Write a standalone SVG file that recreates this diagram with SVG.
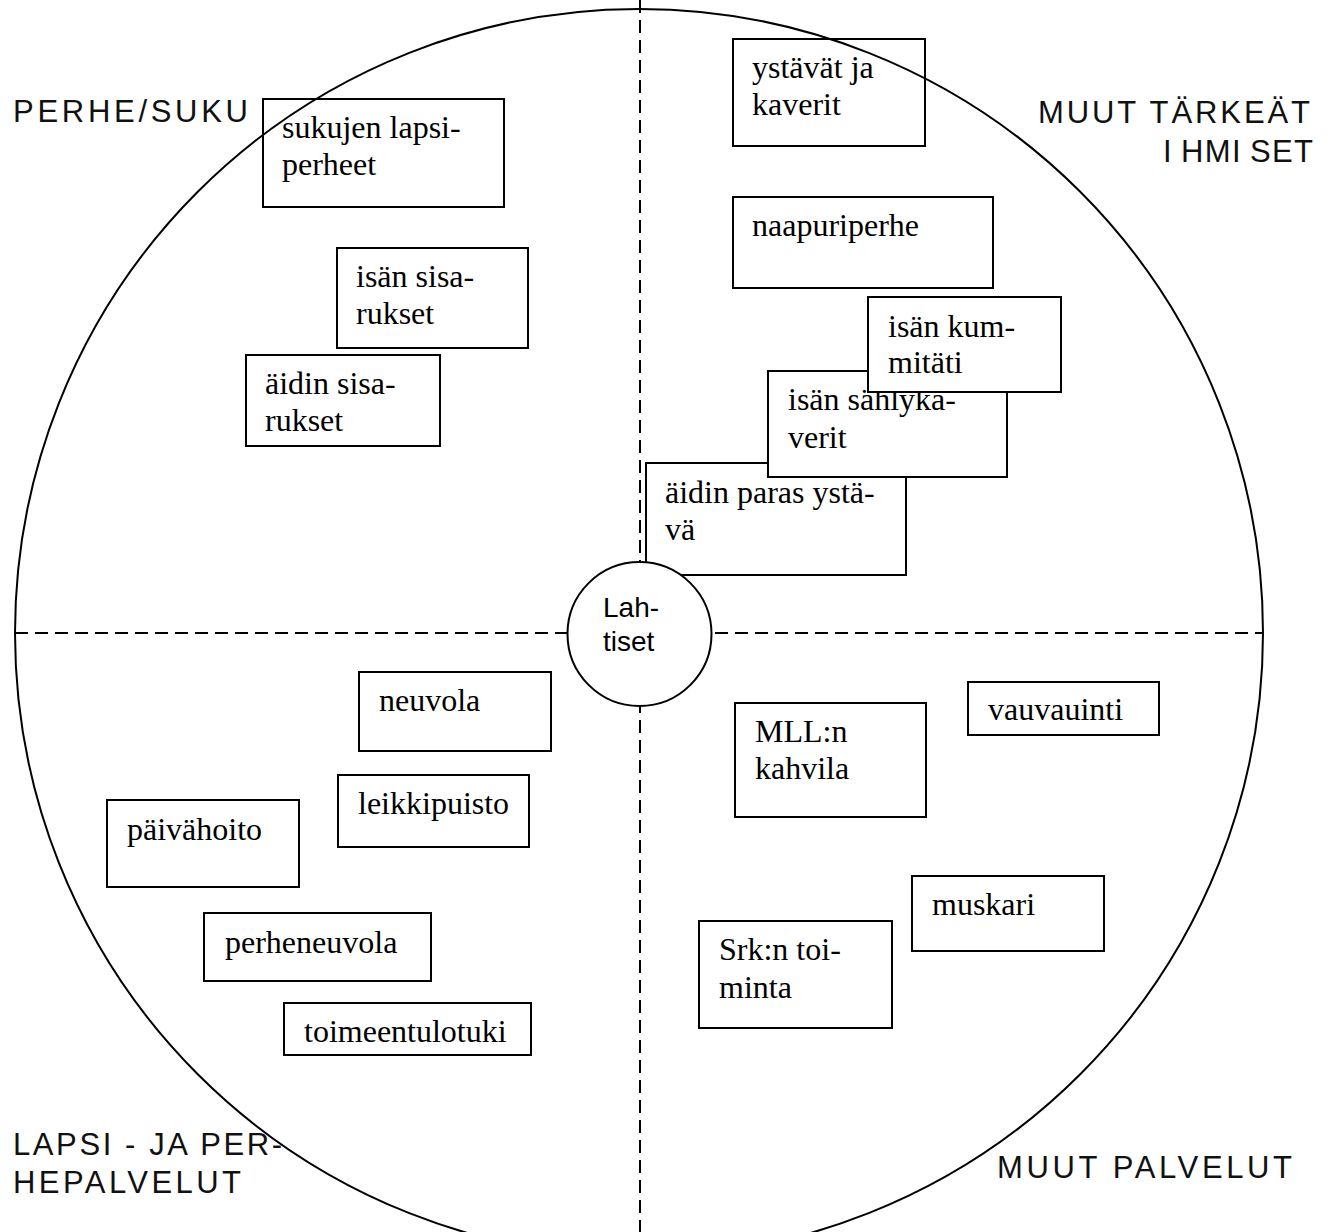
<svg xmlns="http://www.w3.org/2000/svg" width="1337" height="1232" viewBox="0 0 1337 1232">
<style>
.box rect{fill:#fff;stroke:#000;stroke-width:2}
.box text{font-family:"Liberation Sans",sans-serif;font-family:"Liberation Serif","Times New Roman",serif;font-size:32px;fill:#000}
.lbl{font-family:"Liberation Sans",Arial,sans-serif;font-size:31px;fill:#111}
.div{stroke:#000;stroke-width:2;stroke-dasharray:13 7;fill:none}
.lah{font-family:"Liberation Sans",Arial,sans-serif;font-size:28px;fill:#000}
</style>
<rect width="1337" height="1232" fill="#fff"/>
<g id="labels">
<text class="lbl" x="13" y="122" textLength="235" lengthAdjust="spacing">PERHE/SUKU</text>
<text class="lbl" x="1038" y="123" textLength="272" lengthAdjust="spacing">MUUT TÄRKEÄT</text>
<text class="lbl" x="1163" y="162" textLength="150" lengthAdjust="spacing" dx="0 8 0 0 8 0 0">IHMISET</text>
<text class="lbl" x="13" y="1155" textLength="269" lengthAdjust="spacing">LAPSI - JA PER-</text>
<text class="lbl" x="13" y="1193" textLength="228" lengthAdjust="spacing">HEPALVELUT</text>
<text class="lbl" x="997" y="1178" textLength="295" lengthAdjust="spacing">MUUT PALVELUT</text>
</g>
<g id="node-sukujen" class="box"><rect x="263" y="99" width="241" height="108"/><text x="282" y="138">sukujen lapsi-</text><text x="282" y="175">perheet</text></g>
<g id="node-isan-sisarukset" class="box"><rect x="337" y="248" width="191" height="100"/><text x="356" y="287">isän sisa-</text><text x="356" y="324">rukset</text></g>
<g id="node-aidin-sisarukset" class="box"><rect x="246" y="355" width="194" height="91"/><text x="265" y="394">äidin sisa-</text><text x="265" y="431">rukset</text></g>
<g id="node-ystavat" class="box"><rect x="733" y="39" width="192" height="107"/><text x="752" y="78">ystävät ja</text><text x="752" y="115">kaverit</text></g>
<g id="node-naapuriperhe" class="box"><rect x="733" y="197" width="260" height="91"/><text x="752" y="236">naapuriperhe</text></g>
<g id="node-aidin-paras" class="box"><rect x="646" y="463" width="260" height="112"/><text x="665" y="503">äidin paras ystä-</text><text x="665" y="540">vä</text></g>
<g id="node-sahlykaverit" class="box"><rect x="768" y="371" width="239" height="106"/><text x="788" y="410">isän sählyka-</text><text x="788" y="448">verit</text></g>
<g id="node-kummitati" class="box"><rect x="868" y="297" width="193" height="95"/><text x="888" y="337">isän kum-</text><text x="888" y="373">mitäti</text></g>
<g id="node-neuvola" class="box"><rect x="359" y="672" width="192" height="79"/><text x="379" y="711">neuvola</text></g>
<g id="node-leikkipuisto" class="box"><rect x="338" y="775" width="191" height="72"/><text x="358" y="814">leikkipuisto</text></g>
<g id="node-paivahoito" class="box"><rect x="107" y="800" width="192" height="87"/><text x="127" y="840">päivähoito</text></g>
<g id="node-perheneuvola" class="box"><rect x="204" y="913" width="227" height="68"/><text x="225" y="953">perheneuvola</text></g>
<g id="node-toimeentulotuki" class="box"><rect x="284" y="1003" width="247" height="52"/><text x="304" y="1042">toimeentulotuki</text></g>
<g id="node-mll" class="box"><rect x="735" y="703" width="191" height="114"/><text x="755" y="742">MLL:n</text><text x="755" y="779">kahvila</text></g>
<g id="node-vauvauinti" class="box"><rect x="968" y="682" width="191" height="53"/><text x="988" y="720">vauvauinti</text></g>
<g id="node-muskari" class="box"><rect x="912" y="876" width="192" height="75"/><text x="932" y="915">muskari</text></g>
<g id="node-srk" class="box"><rect x="699" y="921" width="193" height="107"/><text x="719" y="960">Srk:n toi-</text><text x="719" y="998">minta</text></g>
<g id="connectors">
<circle cx="639" cy="633" r="624" fill="none" stroke="#000" stroke-width="2"/>
<line class="div" x1="15" y1="633" x2="1263" y2="633"/>
<line class="div" x1="640" y1="0" x2="640" y2="1232"/>
</g>
<g id="node-lahtiset">
<circle cx="639.5" cy="634" r="72" fill="#fff" stroke="#000" stroke-width="2"/>
<text class="lah" x="603" y="617">Lah-</text>
<text class="lah" x="603" y="651">tiset</text>
</g>
</svg>
